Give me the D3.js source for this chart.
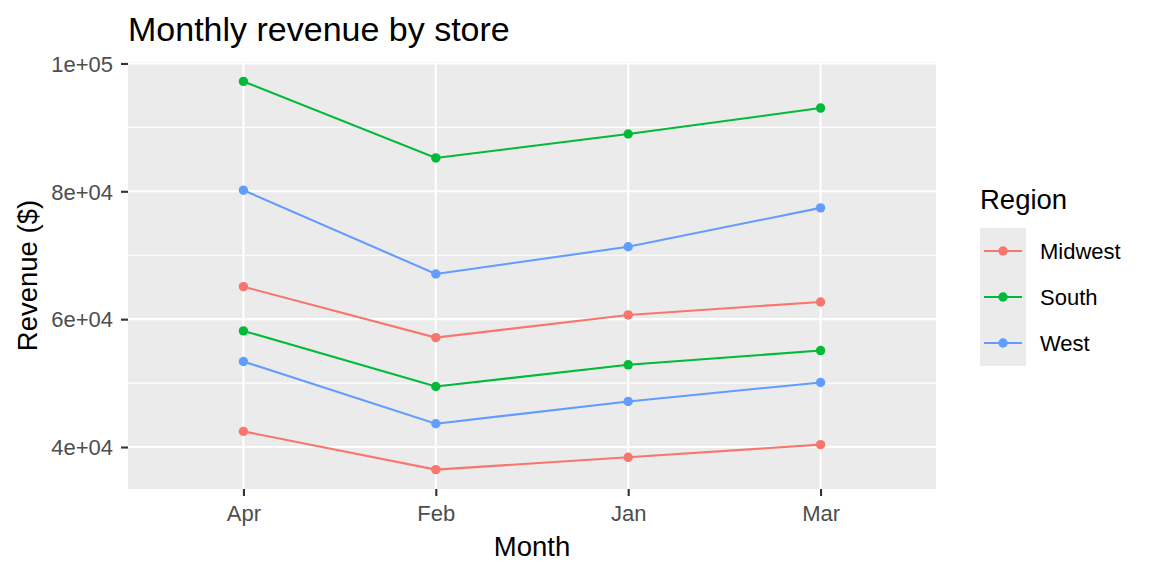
<!DOCTYPE html>
<html>
<head>
<meta charset="utf-8">
<script src="https://cdn.jsdelivr.net/npm/d3@7"></script>
<style>
  body { margin: 0; background: #fff; }
  text { font-family: "Liberation Sans", Arial, sans-serif; }
</style>
</head>
<body>
<script>
  // Données
  const months = ["Apr", "Feb", "Jan", "Mar"];
  const regions = ["Midwest", "South", "West"];
  const stores = ["Midwest A", "Midwest B", "South A", "South B", "West A", "West B"];
  const storeRegion = ["Midwest", "Midwest", "South", "South", "West", "West"];
  const revenue = [
    [65080, 57120, 60660, 62690],
    [42445, 36470, 38390, 40370],
    [97190, 85220, 88965, 93020],
    [58165, 49470, 52860, 55090],
    [80175, 67065, 71325, 77410],
    [53370, 43645, 47130, 50095]
  ];
  const yTicks = [40000, 60000, 80000, 100000];
  const yMinor = [50000, 70000, 90000];

  /***** Configuration *****/
  const width = 1152, height = 576;
  const panel = { left: 128, top: 62, right: 936, bottom: 489 };
  const colors = d3.scaleOrdinal().domain(regions).range(["#F8766D", "#00BA38", "#619CFF"]);

  const svg = d3.select("body").append("svg")
    .attr("width", width)
    .attr("height", height);

  /***** Échelles *****/
  const x = d3.scalePoint().domain(months)
    .range([panel.left, panel.right])
    .padding(0.6);

  const all = revenue.flat();
  const lo = d3.min(all), hi = d3.max(all), span = hi - lo;
  const y = d3.scaleLinear()
    .domain([lo - 0.05 * span, hi + 0.05 * span])
    .range([panel.bottom, panel.top]);

  // Fond du panneau
  svg.append("rect")
    .attr("x", panel.left).attr("y", panel.top)
    .attr("width", panel.right - panel.left)
    .attr("height", panel.bottom - panel.top)
    .attr("fill", "#EBEBEB");

  // Grille
  const grid = svg.append("g");
  grid.selectAll(".minor").data(yMinor).join("line")
    .attr("x1", panel.left).attr("x2", panel.right)
    .attr("y1", d => y(d)).attr("y2", d => y(d))
    .attr("stroke", "#fff").attr("stroke-width", 1.1);
  grid.selectAll(".majorY").data(yTicks).join("line")
    .attr("x1", panel.left).attr("x2", panel.right)
    .attr("y1", d => y(d)).attr("y2", d => y(d))
    .attr("stroke", "#fff").attr("stroke-width", 2.1);
  grid.selectAll(".majorX").data(months).join("line")
    .attr("x1", d => x(d)).attr("x2", d => x(d))
    .attr("y1", panel.top).attr("y2", panel.bottom)
    .attr("stroke", "#fff").attr("stroke-width", 2.1);

  /***** Séries *****/
  const line = d3.line().x((d, i) => x(months[i])).y(d => y(d));
  const series = svg.append("g");
  stores.forEach((s, k) => {
    const c = colors(storeRegion[k]);
    series.append("path")
      .datum(revenue[k])
      .attr("d", line)
      .attr("fill", "none")
      .attr("stroke", c)
      .attr("stroke-width", 2.1);
    series.selectAll(null).data(revenue[k]).join("circle")
      .attr("cx", (d, i) => x(months[i]))
      .attr("cy", d => y(d))
      .attr("r", 4.7)
      .attr("fill", c);
  });

  /***** Axes *****/
  const fmt = v => {
    const e = Math.floor(Math.log10(v));
    return (v / Math.pow(10, e)) + "e+" + String(e).padStart(2, "0");
  };

  const yAxis = svg.append("g")
    .attr("transform", "translate(" + panel.left + ",0)")
    .call(d3.axisLeft(y).tickValues(yTicks).tickSize(7).tickPadding(8).tickFormat(fmt));
  const xAxis = svg.append("g")
    .attr("transform", "translate(0," + panel.bottom + ")")
    .call(d3.axisBottom(x).tickSize(7).tickPadding(9));

  [xAxis, yAxis].forEach(a => {
    a.select(".domain").remove();
    a.selectAll(".tick line").attr("stroke", "#333333").attr("stroke-width", 2.1);
    a.selectAll(".tick text")
      .attr("fill", "#4D4D4D")
      .style("font-size", "22px")
      .style("font-family", "'Liberation Sans', Arial, sans-serif");
  });
  yAxis.selectAll(".tick text").attr("dy", "0.35em");
  xAxis.selectAll(".tick text").attr("dy", "0.71em");

  // Titres
  svg.append("text")
    .attr("x", panel.left).attr("y", 41)
    .style("font-size", "34px")
    .text("Monthly revenue by store");

  svg.append("text")
    .attr("x", (panel.left + panel.right) / 2).attr("y", 556)
    .attr("text-anchor", "middle")
    .style("font-size", "27.5px")
    .text("Month");

  svg.append("text")
    .attr("transform", "translate(37," + ((panel.top + panel.bottom) / 2) + ") rotate(-90)")
    .attr("text-anchor", "middle")
    .style("font-size", "27.5px")
    .text("Revenue ($)");

  /***** Légende *****/
  const legend = svg.append("g").attr("transform", "translate(980,0)");
  legend.append("text")
    .attr("x", 0).attr("y", 209)
    .style("font-size", "27.5px")
    .text("Region");

  const key = legend.selectAll(".key").data(regions).join("g")
    .attr("transform", (d, i) => "translate(0," + (228 + i * 46) + ")");
  key.append("rect")
    .attr("width", 46).attr("height", 46)
    .attr("fill", "#EBEBEB");
  key.append("line")
    .attr("x1", 4).attr("x2", 42)
    .attr("y1", 23).attr("y2", 23)
    .attr("stroke", d => colors(d)).attr("stroke-width", 2.1);
  key.append("circle")
    .attr("cx", 23).attr("cy", 23).attr("r", 4.7)
    .attr("fill", d => colors(d));
  key.append("text")
    .attr("x", 60).attr("y", 23).attr("dy", "0.35em")
    .style("font-size", "22px")
    .text(d => d);
</script>
</body>
</html>
